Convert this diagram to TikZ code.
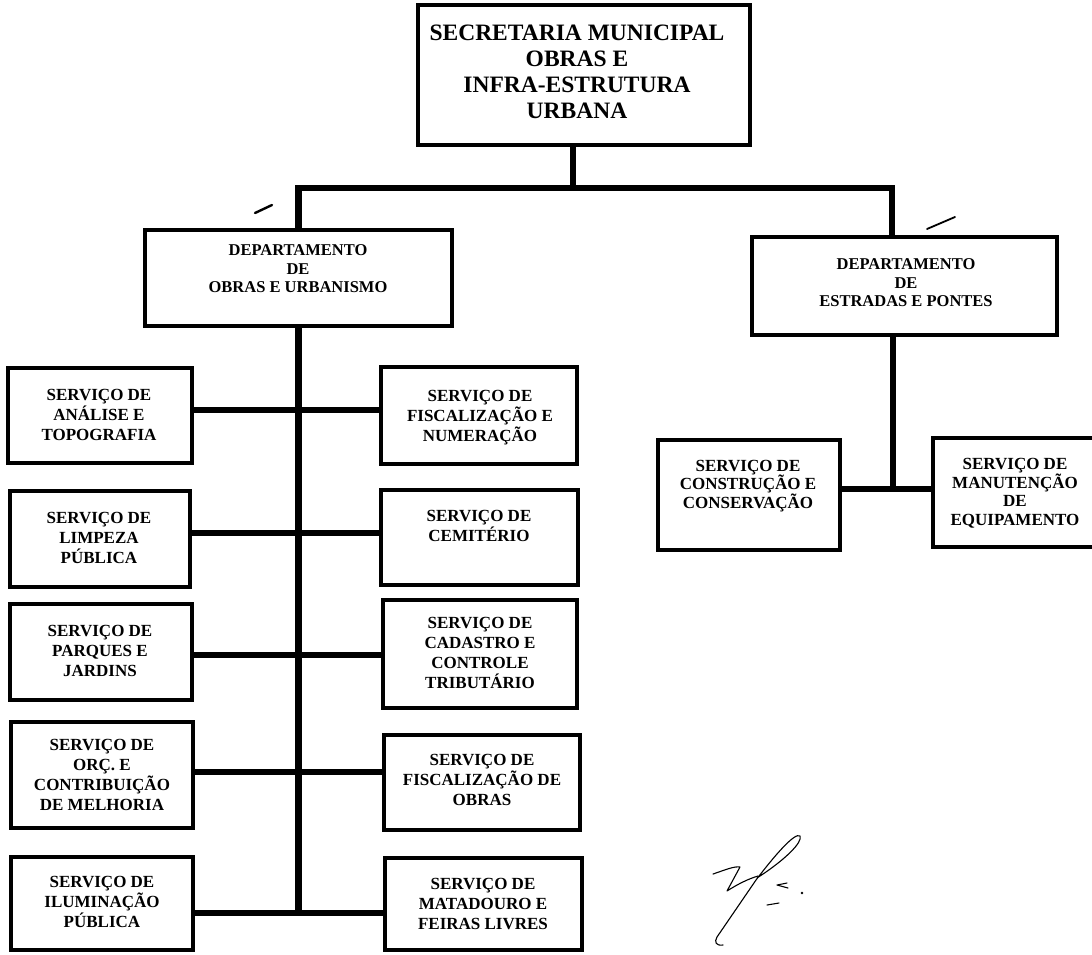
\documentclass[tikz,border=0pt]{standalone}
\usepackage{fontspec}
\setmainfont{Liberation Serif}
\tikzset{
  box/.style={draw, line width=3.2pt, inner sep=0pt},
  conn/.style={line width=6.5pt},
  ttl/.style={font=\bfseries\fontsize{23.5}{26}\selectfont, align=center, inner sep=0pt},
  dtxt/.style={font=\bfseries\fontsize{16.5}{18.5}\selectfont, align=center, inner sep=0pt},
  stxt/.style={font=\bfseries\fontsize{17}{20}\selectfont, align=center, inner sep=0pt},
  rtxt/.style={font=\bfseries\fontsize{17}{18.5}\selectfont, align=center, inner sep=0pt},
  ink/.style={line width=1.1pt, line cap=round, line join=round},
  pen/.style={line width=2.4pt, line cap=round},
}
\newcommand\orgbox[5]{\node[box, minimum width=#4pt, minimum height=#5pt] (#1) at (#2,#3) {};}
\begin{document}
\begin{tikzpicture}[x=1pt,y=-1pt]
\clip (0,0) rectangle (1092,954);
\fill[white] (0,0) rectangle (1092,954);
% boxes
\orgbox{top}{584}{75}{332}{140}
\orgbox{d1}{298.5}{278}{307}{96}
\orgbox{d2}{904.5}{286}{305}{98}
\orgbox{s1}{100}{415.5}{184}{95}
\orgbox{s2}{479}{415.5}{196}{97}
\orgbox{s3}{100}{539}{180}{96}
\orgbox{s4}{479.5}{537.5}{197}{95}
\orgbox{s5}{101}{652}{182}{96}
\orgbox{s6}{480}{654}{194}{108}
\orgbox{s7}{102}{775}{182}{106}
\orgbox{s8}{482}{782.5}{196}{95}
\orgbox{s9}{102}{903.5}{182}{93}
\orgbox{s10}{483.5}{904}{197}{92}
\orgbox{r1}{749}{495}{182}{110}
\orgbox{r2}{1016.5}{492.5}{167}{109}
% texts
\node[ttl] (ttop) at (577,72) {SECRETARIA MUNICIPAL\\OBRAS E\\INFRA-ESTRUTURA\\URBANA};
\node[dtxt] (td1) at (298,269) {DEPARTAMENTO\\DE\\OBRAS E URBANISMO};
\node[dtxt] (td2) at (906,283) {DEPARTAMENTO\\DE\\ESTRADAS E PONTES};
\node[stxt] (ts1) at (99,415) {SERVIÇO DE\\ANÁLISE E\\TOPOGRAFIA};
\node[stxt] (ts2) at (480,418) {SERVIÇO DE\\FISCALIZAÇÃO E\\NUMERAÇÃO};
\node[stxt] (ts3) at (99,538) {SERVIÇO DE\\LIMPEZA\\PÚBLICA};
\node[stxt] (ts4) at (479,526) {SERVIÇO DE\\CEMITÉRIO};
\node[stxt] (ts5) at (100,651) {SERVIÇO DE\\PARQUES E\\JARDINS};
\node[stxt] (ts6) at (480,653) {SERVIÇO DE\\CADASTRO E\\CONTROLE\\TRIBUTÁRIO};
\node[stxt] (ts7) at (102,775) {SERVIÇO DE\\ORÇ. E\\CONTRIBUIÇÃO\\DE MELHORIA};
\node[stxt] (ts8) at (482,780) {SERVIÇO DE\\FISCALIZAÇÃO DE\\OBRAS};
\node[stxt] (ts9) at (102,902) {SERVIÇO DE\\ILUMINAÇÃO\\PÚBLICA};
\node[stxt] (ts10) at (483,904) {SERVIÇO DE\\MATADOURO E\\FEIRAS LIVRES};
\node[rtxt] (tr1) at (748,486) {SERVIÇO DE\\CONSTRUÇÃO E\\CONSERVAÇÃO};
\node[rtxt] (tr2) at (1015,493) {SERVIÇO DE\\MANUTENÇÃO\\DE\\EQUIPAMENTO};
% junction coordinates
\coordinate (jT) at (573,188);
\coordinate (jL) at (298.5,188);
\coordinate (jR) at (892,188);
\coordinate (tb) at (298.5,913);
\coordinate (c1) at (298.5,410);
\coordinate (c2) at (298.5,533);
\coordinate (c3) at (298.5,655);
\coordinate (c4) at (298.5,772);
\coordinate (rv) at (893,489);
% connectors
\draw[conn] (top.south -| jT) -- (jT);
\draw[conn] (d1.north -| jL) -- (jL) -- (jR) -- (d2.north -| jR);
\draw[conn] (d1.south -| tb) -- (tb);
\draw[conn] (s1.east |- c1) -- (s2.west |- c1);
\draw[conn] (s3.east |- c2) -- (s4.west |- c2);
\draw[conn] (s5.east |- c3) -- (s6.west |- c3);
\draw[conn] (s7.east |- c4) -- (s8.west |- c4);
\draw[conn] (s9.east |- tb) -- (s10.west |- tb);
\draw[conn] (d2.south -| rv) -- (rv);
\draw[conn] (r1.east |- rv) -- (r2.west |- rv);
% pen marks
\draw[pen] (255,213) -- (272,205);
\draw[line width=1.8pt, line cap=round] (927,229) -- (955,217);
% signature
\draw[ink] (713,874) .. controls (725,870) and (734,866) .. (740,867) -- (727,891) .. controls (738,884) and (748,879) .. (758,876);
\draw[ink] (723,945) .. controls (716,946) and (714,942) .. (717,937) -- (756,880) .. controls (775,855) and (795,832) .. (800,836) .. controls (803,842) and (785,860) .. (757,878);
\draw[ink] (787,883) -- (777,885) -- (788,888);
\fill (802,893) circle (1.3);
\draw[ink] (767,905) -- (779,903);
\end{tikzpicture}
\end{document}
